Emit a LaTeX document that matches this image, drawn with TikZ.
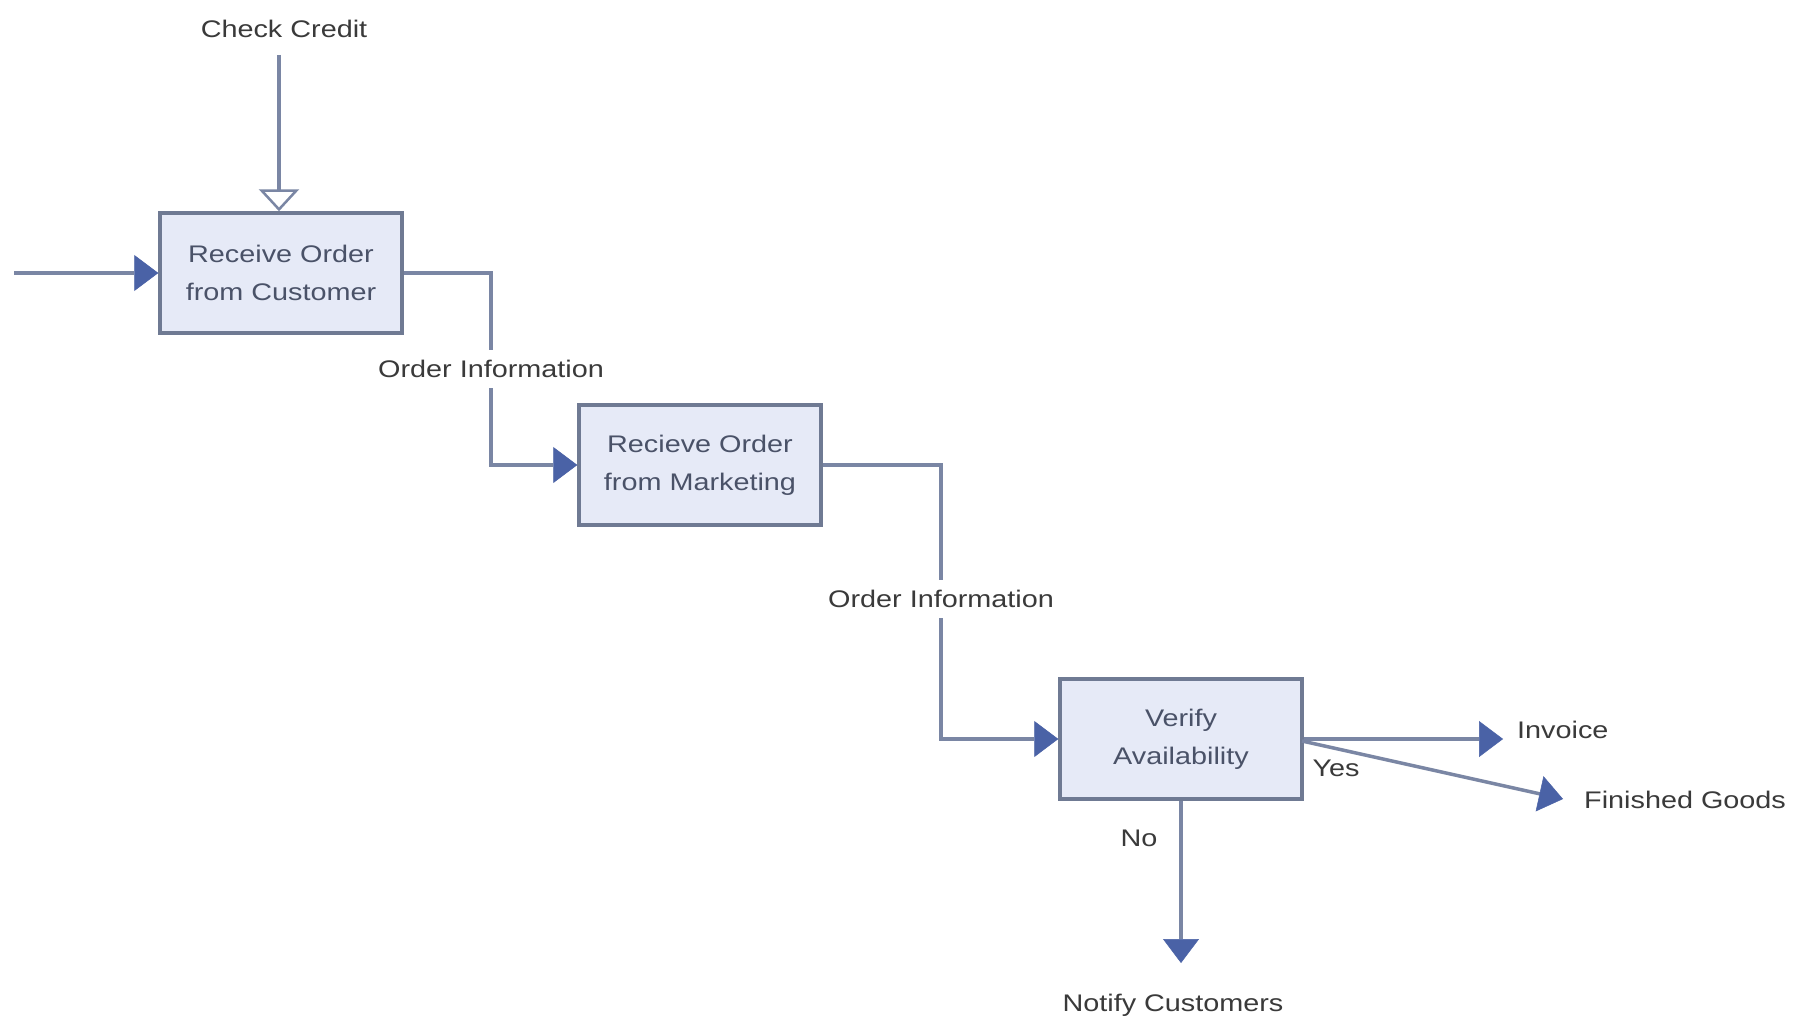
\documentclass[tikz,border=0pt]{standalone}
\usepackage{fontspec}
\setmainfont[FakeStretch=1.2]{Liberation Sans}
\usetikzlibrary{arrows.meta}
\definecolor{boxfill}{HTML}{E6EAF7}
\definecolor{boxdraw}{HTML}{6F7A93}
\definecolor{linec}{HTML}{7A86A4}
\definecolor{tipc}{HTML}{4A62A6}
\definecolor{boxtext}{HTML}{4A5268}
\definecolor{lbltext}{HTML}{3A3A3A}
\tikzset{
  procbox/.style={draw=boxdraw, fill=boxfill, line width=3.5pt, minimum width=242pt, minimum height=120pt,
    align=center, text=boxtext, font=\fontsize{24}{38}\selectfont, inner sep=0pt},
  conn/.style={draw=linec, line width=3.5pt},
  flow/.style={conn, -{Triangle[length=24pt,width=36pt,color=tipc,fill=tipc,line width=0.5pt]}},
  ctrl/.style={conn, -{Triangle[length=22pt,width=40pt,color=linec,fill=white,line width=2.5pt]}},
  lbl/.style={fill=white, text=lbltext, font=\fontsize{24}{28}\selectfont, inner xsep=2pt, inner ysep=10pt},
  freelbl/.style={text=lbltext, font=\fontsize{24}{28}\selectfont, inner sep=2pt}
}
\begin{document}
\begin{tikzpicture}[x=1pt,y=-1pt]
\useasboundingbox[fill=white] (0,0) rectangle (1798,1025);
% boxes
\node[procbox] (b1) at (281,273) {Receive Order\\from Customer};
\node[procbox] (b2) at (700,465) {Recieve Order\\from Marketing};
\node[procbox] (b3) at (1181,739) {Verify\\Availability};
% free labels
\node[freelbl] (cc) at (284,29) {Check Credit};
\node[freelbl, anchor=west] (inv) at (1515,730) {Invoice};
\node[freelbl, anchor=west] (fg) at (1582,800) {Finished Goods};
\node[freelbl] (nc) at (1173,1005) {Notify Customers};
\node[freelbl] (yes) at (1336,768) {Yes};
\node[freelbl] (no) at (1139,838) {No};
% helper coordinates
\coordinate (cctop) at (279,55);
\coordinate (instart) at (14,0);
\coordinate (k1) at (491,0);
\coordinate (k2) at (941,0);
\coordinate (invend) at (1503,0);
\coordinate (fgstart) at (1302,741);
\coordinate (fgend) at (1563,799);
\coordinate (noend) at (0,963);
% connectors
\draw[ctrl] (cctop) -- (cctop |- b1.north);
\draw[flow] (instart |- b1.west) -- (b1.west);
\draw[flow] (b1.east) -- (b1.east -| k1) -- node[lbl]{Order Information} (b2.west -| k1) -- (b2.west);
\draw[flow] (b2.east) -- (b2.east -| k2) -- node[lbl, pos=0.49]{Order Information} (b3.west -| k2) -- (b3.west);
\draw[flow] (b3.east) -- (b3.east -| invend);
\draw[flow] (fgstart) -- (fgend);
\draw[flow] (b3.south) -- (b3.south |- noend);
\end{tikzpicture}
\end{document}
